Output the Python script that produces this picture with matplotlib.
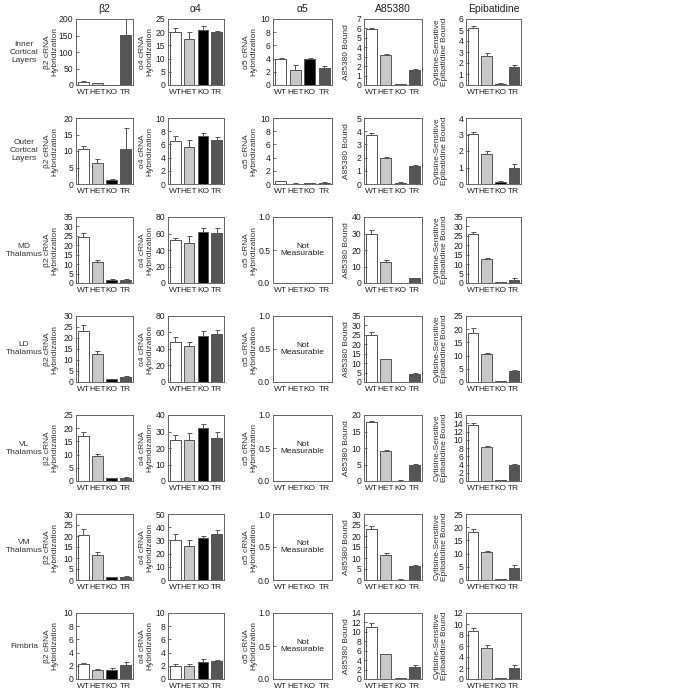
import numpy as np
import matplotlib
matplotlib.use("Agg")
import matplotlib.pyplot as plt

plt.rcParams['font.family'] = ['Liberation Sans', 'DejaVu Sans']

groups = ["WT", "HET", "KO", "TR"]
regions = ["Inner\nCortical\nLayers", "Outer\nCortical\nLayers", "MD\nThalamus",
           "LD\nThalamus", "VL\nThalamus", "VM\nThalamus", "Fimbria"]
titles = ["β2", "α4", "α5", "A85380", "Epibatidine"]
ylabels = ["β2 cRNA\nHybridization", "α4 cRNA\nHybridization", "α5 cRNA\nHybridization",
           "A85380 Bound", "Cytisine-Sensitive\nEpibatidine Bound"]

# means and SEM (upper) per region row, order WT HET KO TR
b2_mean = [[10, 6, 1, 152], [10.5, 6.3, 1.2, 10.5], [24.5, 11, 1.8, 1.8],
           [23, 12.5, 1.2, 2.2], [17, 9.5, 1.0, 1.3], [20.5, 11.5, 1.2, 1.3],
           [2.2, 1.35, 1.3, 2.1]]
b2_err = [[2, 1, 0.5, 70], [1, 1.2, 0.4, 6.5], [2, 1, 0.2, 0.5],
          [2.8, 1.5, 0.3, 0.6], [1.5, 0.8, 0.2, 0.2], [2.5, 1.3, 0.3, 0.3],
          [0.3, 0.2, 0.4, 0.5]]
a4_mean = [[20, 17.5, 21, 20], [6.5, 5.6, 7.2, 6.6], [52, 49, 62, 61],
           [48, 44, 56, 58], [25, 25, 32, 26], [30.5, 26, 32, 35],
           [2.0, 2.0, 2.6, 2.7]]
a4_err = [[1.5, 2.5, 1.5, 0.5], [0.8, 1.1, 0.6, 0.5], [3, 8, 5, 6],
          [7, 5, 6, 5], [3, 4, 2.5, 3.5], [4, 4.5, 1.5, 3],
          [0.2, 0.3, 0.5, 0.2]]
a5_mean = [[4.0, 2.3, 4.0, 2.6], [0.45, 0.05, 0.15, 0.2]]
a5_err = [[0.1, 0.7, 0.1, 0.3], [0.05, 0.05, 0.05, 0.05]]
a85_mean = [[5.9, 3.2, 0.1, 1.6], [3.7, 1.95, 0.1, 1.35], [30, 13, 0.2, 2.8],
            [25, 12, 0.1, 4.2], [18, 9, 0.1, 4.8], [23, 11.5, 0.2, 6.2],
            [11, 5.2, 0.15, 2.5]]
a85_err = [[0.1, 0.05, 0.03, 0.15], [0.15, 0.1, 0.03, 0.08], [2, 1.2, 0.1, 0.4],
           [1.3, 0.3, 0.1, 0.5], [0.3, 0.3, 0.1, 0.4], [1.5, 0.7, 0.1, 0.8],
           [0.8, 0.2, 0.05, 0.5]]
epi_mean = [[5.2, 2.6, 0.1, 1.6], [3.05, 1.8, 0.12, 0.95], [26, 12.5, 0.3, 1.8],
            [18.5, 10.5, 0.3, 4.0], [13.5, 8.2, 0.2, 3.8], [18, 10.5, 0.2, 4.5],
            [8.7, 5.6, 0.15, 2.0]]
epi_err = [[0.2, 0.3, 0.05, 0.25], [0.12, 0.18, 0.05, 0.25], [1, 1, 0.1, 0.6],
           [1.8, 0.3, 0.1, 0.7], [0.6, 0.2, 0.1, 0.4], [1.5, 0.3, 0.1, 1],
           [0.6, 0.5, 0.05, 0.6]]

# y-axis max and tick step per row for each column
b2_ymax = [(200, 50), (20, 5), (35, 5), (30, 5), (25, 5), (30, 5), (10, 2)]
a4_ymax = [(25, 5), (10, 2), (80, 20), (80, 20), (40, 10), (50, 10), (10, 2)]
a5_ymax = [(10, 2), (10, 2)] + [(1.0, 0.5)] * 5
a85_ymax = [(7, 1), (5, 1), (40, 10), (35, 5), (20, 5), (30, 5), (14, 2)]
epi_ymax = [(6, 1), (4, 1), (35, 5), (25, 5), (16, 2), (25, 5), (12, 2)]

means = [b2_mean, a4_mean, a5_mean, a85_mean, epi_mean]
errs = [b2_err, a4_err, a5_err, a85_err, epi_err]
ymaxs = [b2_ymax, a4_ymax, a5_ymax, a85_ymax, epi_ymax]

colors = ["white", "#c8c8c8", "black", "#555555"]
W, H = 682, 693
col_x = [(76, 133), (168, 224), (273, 332), (364, 422), (466, 521)]
ylab_x = [51, 146, 250, 347, 441]

fig = plt.figure(figsize=(W / 100, H / 100), dpi=100)
x = np.arange(4)
for r in range(7):
    top = 19 + 99 * r
    bot = top + 66
    fig.text(24 / W, 1 - (top + bot) / 2 / H, regions[r], ha='center', va='center',
             fontsize=6, color='#333333')
    for c in range(5):
        x0, x1 = col_x[c]
        ax = fig.add_axes([x0 / W, 1 - bot / H, (x1 - x0) / W, 66 / H])
        ymax, step = ymaxs[c][r]
        if r < len(means[c]):
            m = means[c][r]
            e = errs[c][r]
            ax.bar(x, m, width=0.78, color=colors, edgecolor='#555555', linewidth=0.7,
                   yerr=[[0] * 4, e], error_kw=dict(ecolor='#555555', elinewidth=0.7,
                                                   capsize=1.8, capthick=0.7))
        else:
            ax.text(0.5, 0.5, "Not\nMeasurable", transform=ax.transAxes, ha='center',
                    va='center', fontsize=6, color='#222222', linespacing=1.1)
        ax.set_xlim(-0.52, 3.52)
        ax.set_ylim(0, ymax)
        ticks = np.arange(0, ymax + step / 2, step)
        ax.set_yticks(ticks)
        if step < 1:
            ax.set_yticklabels(["%.1f" % t for t in ticks])
        else:
            ax.set_yticklabels(["%d" % t for t in ticks])
        ax.set_xticks(x)
        ax.set_xticklabels(groups)
        ax.tick_params(axis='x', length=0, labelsize=6, pad=3, colors='#222222')
        ax.tick_params(axis='y', direction='in', length=2, width=0.6, labelsize=6.2,
                       pad=2, colors='#222222', color='#555555')
        for s in ax.spines.values():
            s.set_color('#666666')
            s.set_linewidth(0.7)
        fig.text(ylab_x[c] / W, 1 - (top + bot) / 2 / H, ylabels[c], rotation=90,
                 ha='center', va='center', fontsize=6, color='#333333', linespacing=1.0)
        if r == 0:
            ax.set_title(titles[c], fontsize=7.5, pad=5, color='#222222')

fig.savefig("out.png", dpi=100)
